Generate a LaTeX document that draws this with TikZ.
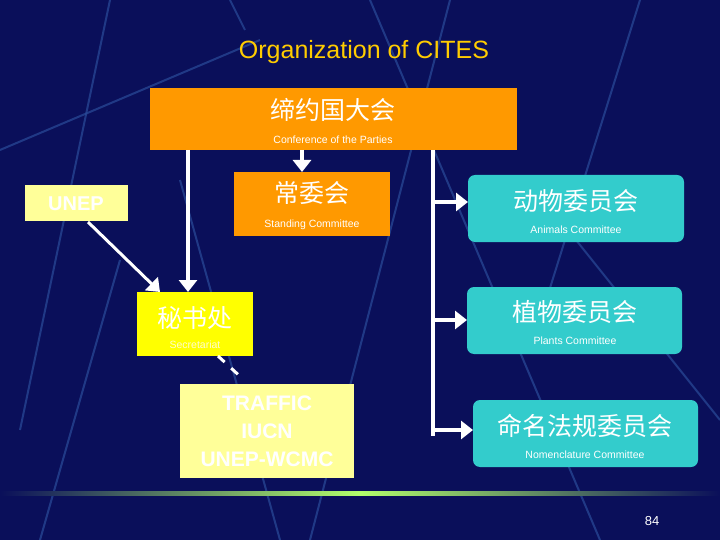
\documentclass[tikz,border=0pt]{standalone}
\usepackage{fontspec}
\setmainfont{Liberation Sans}
\newfontfamily\cjk{Noto Sans CJK SC}
\usetikzlibrary{arrows.meta}
\definecolor{bgnavy}{HTML}{0A0F5A}
\definecolor{bgline}{HTML}{2A4C9A}
\definecolor{orng}{HTML}{FF9900}
\definecolor{teal}{HTML}{33CCCC}
\definecolor{lyel}{HTML}{FFFF99}
\definecolor{yel}{HTML}{FFFF00}
\definecolor{ttl}{HTML}{FFCC00}
\begin{document}
\begin{tikzpicture}[x=1pt,y=-1pt,
  cn/.style={font=\cjk\fontsize{25}{27}\selectfont,text=white},
  en/.style={font=\fontsize{10.5}{12}\selectfont,text=white},
  arr/.style={draw=white,line width=4pt,-{Triangle[width=18pt,length=12pt]}},
  ln/.style={draw=white,line width=4pt}]
\useasboundingbox (0,0) rectangle (720,540);
\fill[bgnavy] (0,0) rectangle (720,540);
\begin{scope}[bgline,line width=2pt,opacity=0.7]
\draw (110,0) -- (20,430);
\draw (0,150) -- (260,40);
\draw (230,0) -- (245,30);
\draw (370,0) -- (600,540);
\draw (450,0) -- (310,540);
\draw (640,0) -- (540,320);
\draw (560,220) -- (720,420);
\draw (180,180) -- (280,540);
\draw (40,540) -- (120,260);
\end{scope}
% boxes
\fill[orng] (150,88) rectangle (517,150);
\node[cn] (cop) at (333,110) {缔约国大会};
\node[en] (copE) at (333,140) {Conference of the Parties};
\fill[orng] (234,172) rectangle (390,236);
\node[cn] (sc) at (312,193) {常委会};
\node[en] (scE) at (312,225) {Standing Committee};
\fill[lyel] (25,185) rectangle (128,221);
\node[font=\bfseries\fontsize{20}{22}\selectfont,text=white] (unep) at (76,204) {UNEP};
\fill[yel] (137,292) rectangle (253,356);
\node[cn,text=white] (sec) at (195,318) {秘书处};
\node[en,text=white!80!yellow] (secE) at (195,345) {Secretariat};
\fill[lyel] (180,384) rectangle (354,478);
\node[font=\bfseries\fontsize{21}{28}\selectfont,text=white,align=center] (traf) at (267,431) {TRAFFIC\\IUCN\\UNEP-WCMC};
\fill[teal,rounded corners=7pt] (468,175) rectangle (684,242);
\node[cn] (an) at (576,201) {动物委员会};
\node[en] (anE) at (576,230) {Animals Committee};
\fill[teal,rounded corners=7pt] (467,287) rectangle (682,354);
\node[cn] (pl) at (575,312) {植物委员会};
\node[en] (plE) at (575,341) {Plants Committee};
\fill[teal,rounded corners=7pt] (473,400) rectangle (698,467);
\node[cn] (nm) at (585,426) {命名法规委员会};
\node[en] (nmE) at (585,455) {Nomenclature Committee};
% coordinates
\coordinate (cb1) at (302,150); \coordinate (st) at (302,172);
\coordinate (cb2) at (188,150); \coordinate (se) at (188,292);
\coordinate (cb3) at (433,150); \coordinate (vb) at (433,436);
\coordinate (v1) at (431,202); \coordinate (a1) at (468,202);
\coordinate (v2) at (431,320); \coordinate (a2) at (467,320);
\coordinate (v3) at (431,430); \coordinate (a3) at (473,430);
\coordinate (u1) at (88,222); \coordinate (u2) at (160,292);
\coordinate (d1) at (218,356); \coordinate (d2) at (244,380);
\draw[arr] (cb1) -- (st);
\draw[arr] (cb2) -- (se);
\draw[ln] (cb3) -- (vb);
\draw[arr] (v1) -- (a1);
\draw[arr] (v2) -- (a2);
\draw[arr] (v3) -- (a3);
\draw[arr,line width=3pt] (u1) -- (u2);
\draw[ln,line width=3pt,dash pattern=on 9pt off 9pt] (d1) -- (d2);
% title and footer
\node[font=\fontsize{25}{28}\selectfont,text=ttl] (title) at (364,52) {Organization of CITES};
\shade[left color=bgnavy,right color=bgnavy,middle color=lyel!70!green] (0,491) rectangle (720,495);
\node[font=\fontsize{13}{15}\selectfont,text=white] (pg) at (652,521) {84};
\end{tikzpicture}
\end{document}
